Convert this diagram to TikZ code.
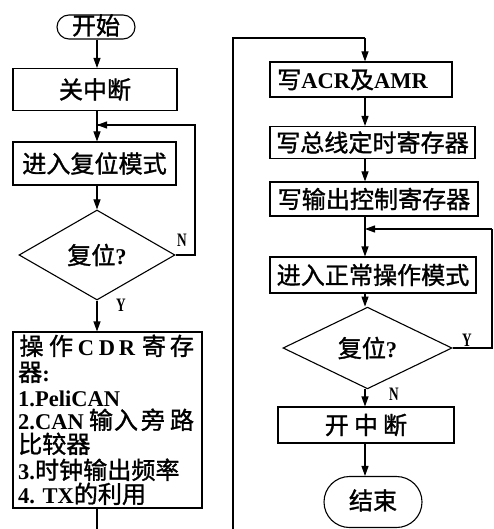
\documentclass[tikz,border=0pt]{standalone}
\usepackage{fontspec}
\setmainfont{Liberation Serif}
\newfontfamily\zhfont{Noto Sans CJK SC}[Scale=1.07,FakeBold=1.3]
\newcommand\zh[1]{{\zhfont\mdseries #1}}
\newcommand\narrow[1]{\scalebox{0.7}[1]{#1}}
\usetikzlibrary{shapes.geometric,shapes.misc,arrows.meta}
\tikzset{
  base/.style={draw, line width=1.1pt, inner sep=0pt, font=\fontsize{22.5}{24}\selectfont\bfseries},
  box/.style={base, rectangle},
  term/.style={base, rounded rectangle, text height=17pt, text depth=2pt},
  dec/.style={base, diamond},
  txt/.style={inner sep=0pt, text height=19pt, text depth=1pt, font=\fontsize{22.5}{24}\selectfont\bfseries},
  lbl/.style={inner sep=0pt, font=\fontsize{19}{19}\selectfont\bfseries},
  line/.style={line width=1.1pt},
  arr/.style={line width=1.1pt, -{Triangle[width=7pt,length=10pt]}}
}
\begin{document}
\begin{tikzpicture}[x=1pt,y={(0pt,-1pt)}]
\useasboundingbox (0,0) rectangle (494,529);
% left column
\coordinate (lx) at (97,0);
\node[term, minimum width=78pt, minimum height=24pt] (start) at (96,27) {\zh{开始}};
\node[box, minimum width=164pt, minimum height=42pt] (off) at (95,89.5) {\zh{关中断}};
\node[box, minimum width=163pt, minimum height=43pt] (reset) at (94.5,163.5) {\zh{进入复位模式}};
\node[dec, minimum width=156pt, minimum height=90pt] (d1) at (97,255) {\zh{复位}?};
\node[box, minimum width=189pt, minimum height=176pt] (cdr) at (107.5,420) {};
\node[txt] (c1) at (31.5,346) {\zh{操}};
\node[txt] (c2) at (61,346) {\zh{作}};
\node[txt] (c3) at (86,346) {C};
\node[txt] (c4) at (107,346) {D};
\node[txt] (c5) at (127,346) {R};
\node[txt] (c6) at (154,346) {\zh{寄}};
\node[txt] (c7) at (182,346) {\zh{存}};
\node[txt, anchor=west] (l2) at (18,372) {\zh{器}:};
\node[txt, anchor=west] (l3) at (18,397) {1.PeliCAN};
\node[txt, anchor=west] (l4a) at (18,420) {2.CAN};
\node[txt] (l4b) at (101,420) {\zh{输}};
\node[txt] (l4c) at (126,420) {\zh{入}};
\node[txt] (l4d) at (153,420) {\zh{旁}};
\node[txt] (l4e) at (182,420) {\zh{路}};
\node[txt, anchor=west] (l5) at (18,444) {\zh{比较器}};
\node[txt, anchor=west] (l6) at (18,470) {3.\zh{时钟输出频率}};
\node[txt, anchor=west] (l7) at (18,494) {4. TX\zh{的利用}};
\coordinate (lb) at (97,529);
\coordinate (fb1) at (195,255);
\coordinate (fb2) at (195,125);
\coordinate (fb3) at (97,125);
\node[lbl] (n1) at (182,240) {\narrow{N}};
\node[lbl] (y1) at (121,305) {\narrow{Y}};
\draw[arr] (start.south -| lx) -- (off.north -| lx);
\draw[arr] (off.south -| lx) -- (reset.north -| lx);
\draw[arr] (reset.south -| lx) -- (d1.north);
\draw[arr] (d1.south) -- (cdr.north -| lx);
\draw[line] (d1.east) -- (fb1) -- (fb2) -- (fb3 -| lx) ;
\draw[arr] (fb2) -- (fb3);
\draw[line] (cdr.south -| lx) -- (lb);
% right column
\coordinate (rx) at (365,0);
\coordinate (rb) at (233,529);
\coordinate (rt) at (233,38);
\node[box, minimum width=182pt, minimum height=35pt] (acr) at (361,79.5) {};
\node[txt, anchor=west] (acrt) at (277,79.5) {\zh{写}ACR\zh{及}AMR};
\node[box, minimum width=205pt, minimum height=32pt] (bus) at (372.5,142.5) {\zh{写总线定时寄存器}};
\node[box, minimum width=208pt, minimum height=34pt] (out) at (374,199) {\zh{写输出控制寄存器}};
\node[box, minimum width=206pt, minimum height=36pt] (normal) at (373,275) {\zh{进入正常操作模式}};
\node[dec, minimum width=169pt, minimum height=60pt] (d2) at (367.5,348) {\zh{复位}?};
\node[box, minimum width=176pt, minimum height=36pt] (on) at (366,425) {\zh{开\hspace{5pt}中\hspace{5pt}断}};
\node[term, minimum width=98pt, minimum height=51pt] (end) at (373,502) {\zh{结束}};
\coordinate (rf1) at (492,348);
\coordinate (rf2) at (492,229);
\coordinate (rf3) at (365,229);
\node[lbl] (y2) at (467,340) {\narrow{Y}};
\node[lbl] (n2) at (394,394) {\narrow{N}};
\draw[line] (rb) -- (rt) -- (rt -| rx);
\draw[arr] (rt -| rx) -- (acr.north -| rx);
\draw[arr] (acr.south -| rx) -- (bus.north -| rx);
\draw[arr] (bus.south -| rx) -- (out.north -| rx);
\draw[arr] (out.south -| rx) -- (normal.north -| rx);
\draw[arr] (normal.south -| rx) -- (d2.north -| rx);
\draw[arr] (d2.south -| rx) -- (on.north -| rx);
\draw[arr] (on.south -| rx) -- (end.north -| rx);
\draw[line] (d2.east) -- (rf1) -- (rf2);
\draw[arr] (rf2) -- (rf3);
\end{tikzpicture}
\end{document}
